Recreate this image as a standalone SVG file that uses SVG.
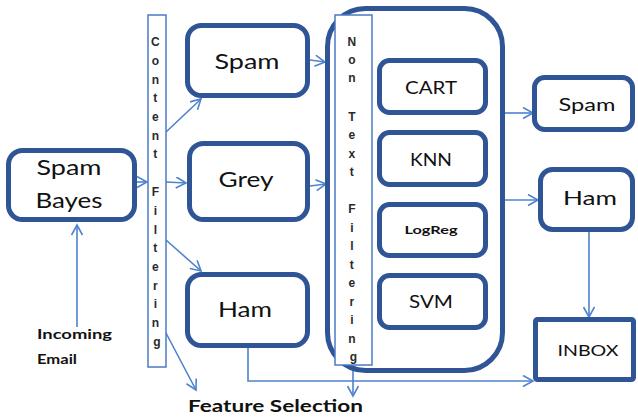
<svg xmlns="http://www.w3.org/2000/svg" width="638" height="420" viewBox="0 0 638 420">
  <style>
    .box { fill: #ffffff; stroke: #2f5597; stroke-width: 5; }
    .bar { fill: #ffffff; stroke: #4a7bc4; stroke-width: 1.5; }
    .lbl { font-family: Lato, "Liberation Sans", Arial, sans-serif; fill: #111111; text-anchor: middle; }
    .free { font-family: Lato, "Liberation Sans", Arial, sans-serif; fill: #111111; font-weight: bold; }
    .vt { font-family: "Liberation Sans", Arial, sans-serif; font-weight: bold; font-size: 12px; fill: #2a2a2a; text-anchor: middle; }
    .link { fill: none; stroke: #4f83cc; stroke-width: 1.6; marker-end: url(#head); }
  </style>
  <defs>
    <marker id="head" markerUnits="userSpaceOnUse" markerWidth="14" markerHeight="14" refX="11" refY="6" orient="auto">
      <path d="M1,0.5 L11,6 L1,11.5" fill="none" stroke="#4f83cc" stroke-width="1.6"/>
    </marker>
  </defs>

  <rect width="638" height="420" fill="#ffffff"/>

  <!-- connectors -->
  <g id="connectors">
    <path class="link" d="M77,327 L77,225"/>
    <path class="link" d="M137,182 L147,182"/>
    <path class="link" d="M166,132 L201,99"/>
    <path class="link" d="M166,182 L186,183"/>
    <path class="link" d="M166,240 L201,271"/>
    <path class="link" d="M166,333 L196,390"/>
    <path class="link" d="M310,60 L325,62"/>
    <path class="link" d="M310,186 L326,184"/>
    <path class="link" d="M248,348 L248,381 L533,381"/>
    <path class="link" d="M353,360 L353,396"/>
    <path class="link" d="M505,113 L533,113"/>
    <path class="link" d="M505,200 L538,200"/>
    <path class="link" d="M589,232 L589,317"/>
  </g>

  <!-- source classifier -->
  <g id="spam-bayes">
    <rect class="box" x="8.5" y="150.5" width="126" height="69" rx="14"/>
    <text class="lbl" x="69" y="175" font-size="21" textLength="65" lengthAdjust="spacingAndGlyphs">Spam</text>
    <text class="lbl" x="69" y="208" font-size="21" textLength="67" lengthAdjust="spacingAndGlyphs">Bayes</text>
  </g>

  <g id="incoming-email">
    <text class="free" x="37" y="339" font-size="14" textLength="75" lengthAdjust="spacingAndGlyphs">Incoming</text>
    <text class="free" x="37" y="364" font-size="14" textLength="40" lengthAdjust="spacingAndGlyphs">Email</text>
  </g>

  <!-- content filtering stage -->
  <g id="content-filtering">
    <rect class="bar" x="148" y="15" width="18" height="352"/>
    <text class="vt">
      <tspan x="157" y="46">C</tspan>
      <tspan x="157" y="65">o</tspan>
      <tspan x="157" y="84">n</tspan>
      <tspan x="157" y="102">t</tspan>
      <tspan x="157" y="121">e</tspan>
      <tspan x="157" y="140">n</tspan>
      <tspan x="157" y="158">t</tspan>
      <tspan x="157" y="196">F</tspan>
      <tspan x="157" y="215">i</tspan>
      <tspan x="157" y="234">l</tspan>
      <tspan x="157" y="252">t</tspan>
      <tspan x="157" y="271">e</tspan>
      <tspan x="157" y="290">r</tspan>
      <tspan x="157" y="308">i</tspan>
      <tspan x="157" y="327">n</tspan>
      <tspan x="157" y="346">g</tspan>
    </text>
  </g>

  <g id="spam-mid">
    <rect class="box" x="187.5" y="25.5" width="120" height="70" rx="14"/>
    <text class="lbl" x="247" y="69" font-size="21" textLength="65" lengthAdjust="spacingAndGlyphs">Spam</text>
  </g>
  <g id="grey">
    <rect class="box" x="189.5" y="143.5" width="118" height="76" rx="14"/>
    <text class="lbl" x="246" y="187" font-size="21" textLength="55" lengthAdjust="spacingAndGlyphs">Grey</text>
  </g>
  <g id="ham-mid">
    <rect class="box" x="187.5" y="274.5" width="120" height="71" rx="14"/>
    <text class="lbl" x="245" y="317" font-size="21" textLength="54" lengthAdjust="spacingAndGlyphs">Ham</text>
  </g>

  <g id="feature-selection">
    <text class="free" x="188" y="412" font-size="17" textLength="175" lengthAdjust="spacingAndGlyphs">Feature Selection</text>
  </g>

  <!-- non text filtering stage -->
  <g id="non-text-filtering">
    <rect class="box" x="327.5" y="8.5" width="175" height="362" rx="38"/>
    <rect class="bar" x="335" y="15" width="37" height="350"/>
    <text class="vt">
      <tspan x="353.5" y="46">N</tspan>
      <tspan x="353.5" y="64">o</tspan>
      <tspan x="353.5" y="82">n</tspan>
      <tspan x="353.5" y="121">T</tspan>
      <tspan x="353.5" y="139">e</tspan>
      <tspan x="353.5" y="158">x</tspan>
      <tspan x="353.5" y="176">t</tspan>
      <tspan x="353.5" y="213">F</tspan>
      <tspan x="353.5" y="232">i</tspan>
      <tspan x="353.5" y="250">l</tspan>
      <tspan x="353.5" y="269">t</tspan>
      <tspan x="353.5" y="287">e</tspan>
      <tspan x="353.5" y="306">r</tspan>
      <tspan x="353.5" y="324">i</tspan>
      <tspan x="353.5" y="343">n</tspan>
      <tspan x="353.5" y="361">g</tspan>
    </text>
  </g>

  <g id="cart">
    <rect class="box" x="379.5" y="60.5" width="106" height="52" rx="10"/>
    <text class="lbl" x="431" y="94" font-size="17" textLength="52" lengthAdjust="spacingAndGlyphs">CART</text>
  </g>
  <g id="knn">
    <rect class="box" x="379.5" y="132.5" width="106" height="52" rx="10"/>
    <text class="lbl" x="431" y="166" font-size="17" textLength="42" lengthAdjust="spacingAndGlyphs">KNN</text>
  </g>
  <g id="logreg">
    <rect class="box" x="379.5" y="204.5" width="106" height="51" rx="10"/>
    <text class="lbl" x="431" y="234" font-size="12" font-weight="bold" textLength="53" lengthAdjust="spacingAndGlyphs">LogReg</text>
  </g>
  <g id="svm">
    <rect class="box" x="379.5" y="275.5" width="106" height="52" rx="10"/>
    <text class="lbl" x="431" y="308" font-size="17" textLength="44" lengthAdjust="spacingAndGlyphs">SVM</text>
  </g>

  <!-- outcomes -->
  <g id="spam-out">
    <rect class="box" x="534.5" y="77.5" width="98" height="52" rx="10"/>
    <text class="lbl" x="587" y="111" font-size="18" textLength="57" lengthAdjust="spacingAndGlyphs">Spam</text>
  </g>
  <g id="ham-out">
    <rect class="box" x="540.5" y="169.5" width="92" height="60" rx="12"/>
    <text class="lbl" x="590" y="205" font-size="19" textLength="54" lengthAdjust="spacingAndGlyphs">Ham</text>
  </g>
  <g id="inbox">
    <rect class="box" x="535.5" y="319.5" width="98" height="60" rx="2"/>
    <text class="lbl" x="588" y="356" font-size="16" textLength="61" lengthAdjust="spacingAndGlyphs">INBOX</text>
  </g>
</svg>
